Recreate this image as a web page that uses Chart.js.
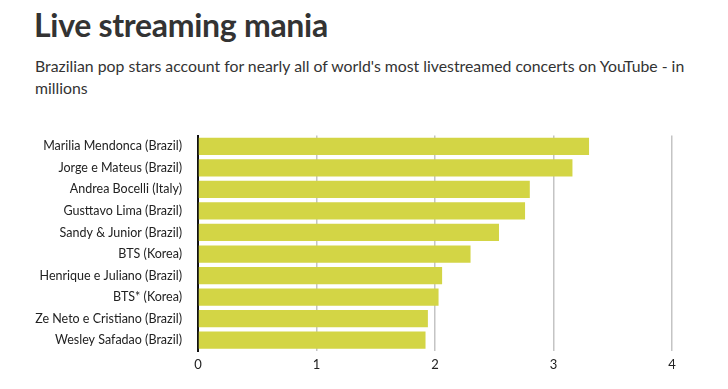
<!DOCTYPE html>
<html>
<head>
<meta charset="utf-8">
<script src="https://cdn.jsdelivr.net/npm/chart.js@4"></script>
<style>
  body { margin: 0; background: #fff; width: 728px; height: 389px; overflow: hidden; font-family: "Source Sans Pro", Lato, sans-serif; }
  .title { position: absolute; left: 34px; top: 5px; font-size: 32px; font-weight: 700; color: #333; letter-spacing: -0.3px; }
  .subtitle { position: absolute; left: 35px; top: 55px; width: 660px; font-size: 15.8px; line-height: 22px; color: #333; }
  .wrap { position: absolute; left: 0; top: 120px; width: 728px; height: 269px; }
</style>
</head>
<body>
<div class="title">Live streaming mania</div>
<div class="subtitle">Brazilian pop stars account for nearly all of world's most livestreamed concerts on YouTube - in millions</div>
<div class="wrap"><canvas id="chart"></canvas></div>
<script>
// artists, top to bottom
const artists = [
  "Marilia Mendonca (Brazil)",
  "Jorge e Mateus (Brazil)",
  "Andrea Bocelli (Italy)",
  "Gusttavo Lima (Brazil)",
  "Sandy & Junior (Brazil)",
  "BTS (Korea)",
  "Henrique e Juliano (Brazil)",
  "BTS* (Korea)",
  "Ze Neto e Cristiano (Brazil)",
  "Wesley Safadao (Brazil)",
];

// peak viewers, millions
const viewers = [3.30, 3.16, 2.80, 2.76, 2.54, 2.30, 2.06, 2.03, 1.94, 1.92];

const xTicks = [0, 1, 2, 3, 4];

const barColor = "#d3d545";

const ctx = document.getElementById("chart");

let myChart = new Chart(ctx, {
  type: "bar",
  data: {
    labels: artists,
    datasets: [
      {
        data: viewers,
        backgroundColor: barColor,
        barPercentage: 0.8,
        categoryPercentage: 1,
      },
    ],
  },
  options: {
    indexAxis: "y",
    responsive: true,
    maintainAspectRatio: false,
    animation: false,
    layout: { padding: { top: 12, right: 56, left: 0, bottom: 0 } },
    plugins: {
      legend: { display: false },
      tooltip: { enabled: false },
    },
    scales: {
      x: {
        min: 0,
        max: 4,
        afterBuildTicks: (scale) => {
          scale.ticks = xTicks.map((v) => ({ value: v }));
        },
        afterFit: (scale) => {
          scale.height = 38;
        },
        border: { display: false },
        grid: {
          color: (c) => (c.tick && c.tick.value === 0 ? "rgba(0,0,0,0)" : "#c4c4c4"),
          lineWidth: 1.5,
          drawTicks: false,
        },
        ticks: {
          color: "#222",
          padding: 6,
          font: { family: "Source Sans Pro, Lato, sans-serif", size: 13 },
        },
      },
      y: {
        afterFit: (scale) => {
          scale.width = 198;
        },
        border: { display: true, color: "#111", width: 2 },
        grid: { display: false },
        ticks: {
          color: "#222",
          padding: 8,
          font: { family: "Source Sans Pro, Lato, sans-serif", size: 12.5 },
        },
      },
    },
  },
});
</script>
</body>
</html>
